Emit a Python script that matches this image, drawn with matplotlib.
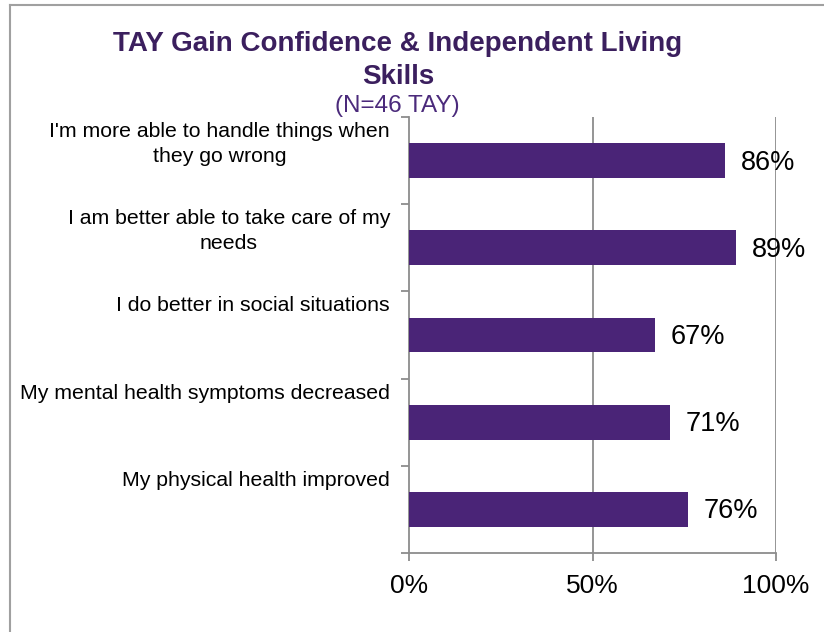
import matplotlib
matplotlib.use("Agg")
import matplotlib.pyplot as plt
from matplotlib.lines import Line2D
from matplotlib.transforms import blended_transform_factory

plt.rcParams['font.family'] = ['Liberation Sans', 'DejaVu Sans']

categories = [
    "I'm more able to handle things when\nthey go wrong",
    "I am better able to take care of my\nneeds",
    "I do better in social situations",
    "My mental health symptoms decreased",
    "My physical health improved",
]
values = [86, 89, 67, 71, 76]
xticks = [0, 50, 100]
xtick_labels = ["0%", "50%", "100%"]

bar_color = '#4a2477'
grid_color = '#8c8c8c'

fig = plt.figure(figsize=(8.24, 6.32), dpi=100)
ax = fig.add_axes([409 / 824, 79 / 632, 367 / 824, 436 / 632])

pos = list(range(len(categories)))
ax.barh(pos, values, height=0.4, color=bar_color, zorder=3)
ax.set_xlim(0, 100)
ax.set_ylim(len(categories) - 0.5, -0.5)

# vertical gridlines
for t in xticks[1:]:
    ax.axvline(t, color=grid_color, lw=1.3, zorder=1)

ax.set_xticks(xticks)
ax.set_xticklabels(xtick_labels, fontsize=19)
ax.set_yticks([p - 0.5 for p in pos] + [pos[-1] + 0.5])
ax.set_yticklabels([])
ax.tick_params(axis='both', direction='out', length=6, width=1.3, color=grid_color)
ax.tick_params(axis='x', pad=9)
for s in ['top', 'right']:
    ax.spines[s].set_visible(False)
for s in ['left', 'bottom']:
    ax.spines[s].set_color(grid_color)
    ax.spines[s].set_linewidth(1.3)

# category labels sit near the top of each band
# (baseline of the last line is used by matplotlib for multi-line text)
band_px = 436 / len(categories)
tr = blended_transform_factory(ax.transAxes, ax.transData)
for p, c in zip(pos, categories):
    nlines = c.count("\n") + 1
    y = p - 0.5 + (20 + 25 * (nlines - 1)) / band_px
    ax.text(-19 / 367, y, c, transform=tr, ha='right', va='baseline',
            multialignment='center', fontsize=15.3, linespacing=1.38)

# value labels
for p, v in zip(pos, values):
    ax.annotate(f"{v}%", xy=(v, p), xytext=(16, -2), textcoords='offset pixels',
                ha='left', va='center', fontsize=19.5)

# title block
fig.text(398 / 824, 1 - 51 / 632, "TAY Gain Confidence & Independent Living",
         ha='center', va='baseline', fontsize=20, fontweight='bold', color='#3b1f5e')
fig.text(398 / 824, 1 - 84 / 632, "Skills",
         ha='center', va='baseline', fontsize=20, fontweight='bold', color='#3b1f5e')
fig.text(397 / 824, 1 - 112 / 632, "(N=46 TAY)",
         ha='center', va='baseline', fontsize=17.5, color='#4b2a7b')

# chart area frame
fig.add_artist(Line2D([10 / 824, 10 / 824], [0, 1 - 5 / 632], transform=fig.transFigure,
                      color='#a0a0a0', lw=1.5))
fig.add_artist(Line2D([10 / 824, 1], [1 - 5 / 632, 1 - 5 / 632], transform=fig.transFigure,
                      color='#a0a0a0', lw=1.5))

fig.savefig("out.png", dpi=100)
